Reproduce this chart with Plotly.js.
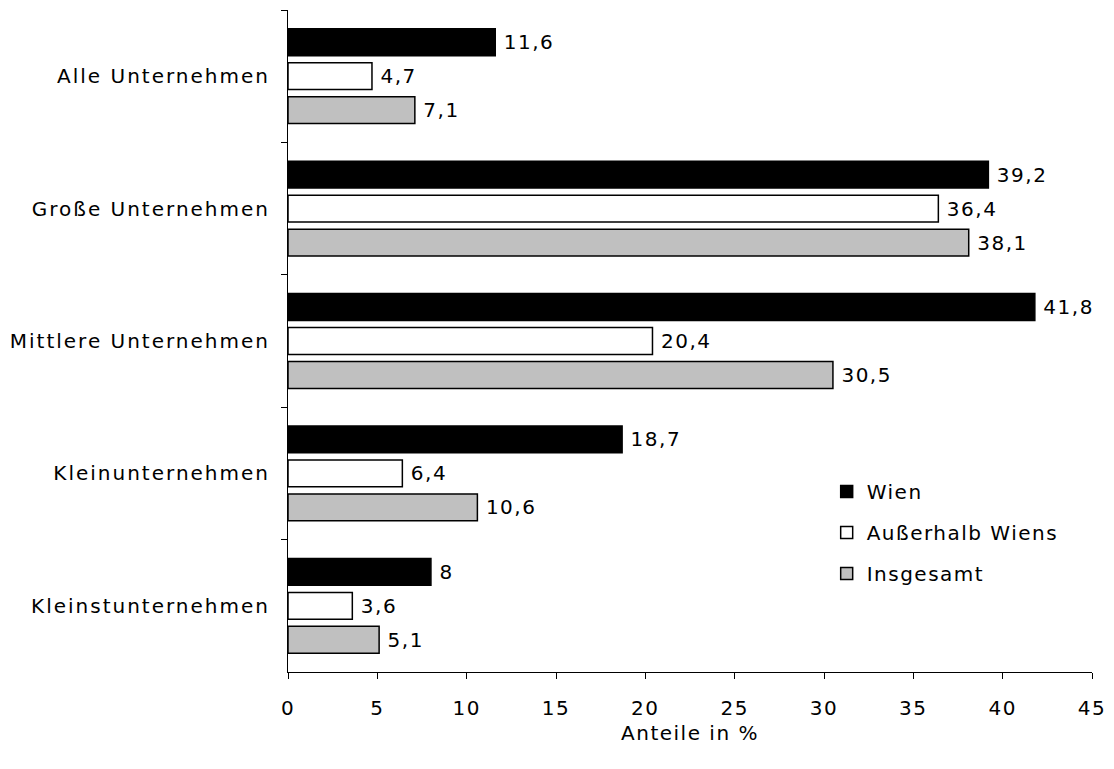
<!DOCTYPE html>
<html>
<head>
<meta charset="utf-8">
<script src="https://cdn.plot.ly/plotly-3.0.1.min.js"></script>
<style>
html,body{margin:0;padding:0;background:#fff;}
#chart{width:1114px;height:769px;}
text{letter-spacing:1.5px;}
#chart .ytick text{letter-spacing:2px;}
</style>
</head>
<body>
<div id="chart"></div>
<script>
const categories = ["Alle Unternehmen", "Große Unternehmen", "Mittlere Unternehmen", "Kleinunternehmen", "Kleinstunternehmen"];
const wien = [11.6, 39.2, 41.8, 18.7, 8];
const ausserhalb = [4.7, 36.4, 20.4, 6.4, 3.6];
const insgesamt = [7.1, 38.1, 30.5, 10.6, 5.1];
const seriesNames = ["Wien", "Außerhalb Wiens", "Insgesamt"];
const xTicks = [0, 5, 10, 15, 20, 25, 30, 35, 40, 45];

const FONT = "DejaVu Sans, Lato, sans-serif";
const FS = 20;
const fmt = v => '\u2009' + String(v).replace('.', ',');

function mk(name, vals, fill, grp) {
  return {
    type: 'bar', orientation: 'h', name: name, legendgroup: grp,
    y: categories, x: vals,
    text: vals.map(fmt), textposition: 'outside', cliponaxis: false,
    textfont: {family: FONT, size: FS, color: '#000'},
    marker: {color: fill, line: {color: '#000', width: 1.5}},
    hoverinfo: 'x+name'
  };
}

const data = [
  mk(seriesNames[0], wien, '#000000', 'a'),
  mk(seriesNames[1], ausserhalb, '#ffffff', 'b'),
  mk(seriesNames[2], insgesamt, '#c0c0c0', 'c')
];

const layout = {
  width: 1114, height: 769,
  margin: {l: 288, r: 22, t: 10, b: 97},
  paper_bgcolor: '#fff', plot_bgcolor: '#fff',
  font: {family: FONT, size: FS, color: '#000'},
  barmode: 'group', bargap: 0.23, bargroupgap: 0.21,
  showlegend: true,
  legend: {x: 0.67, y: 0.302, xanchor: 'left', yanchor: 'top',
           font: {family: FONT, size: FS, color: '#000'},
           traceorder: 'grouped', tracegroupgap: 12, itemwidth: 30, bgcolor: 'rgba(0,0,0,0)'},
  xaxis: {
    range: [0, 45], tickvals: xTicks, ticktext: xTicks.map(String),
    showgrid: false, zeroline: false, showline: true, linecolor: '#000', linewidth: 1,
    ticks: 'outside', ticklen: 6, tickcolor: '#000', ticklabelstandoff: 12,
    tickfont: {family: FONT, size: FS},
    title: {text: 'Anteile in %', font: {family: FONT, size: FS}, standoff: 6}
  },
  yaxis: {
    autorange: 'reversed', type: 'category',
    showgrid: false, zeroline: false, showline: true, linecolor: '#000', linewidth: 1,
    ticks: 'outside', ticklen: 6, tickcolor: '#000', tickson: 'boundaries',
    tickfont: {family: FONT, size: FS}, ticklabelstandoff: 13
  }
};

Plotly.newPlot('chart', data, layout, {displayModeBar: false, staticPlot: true});
</script>
</body>
</html>
